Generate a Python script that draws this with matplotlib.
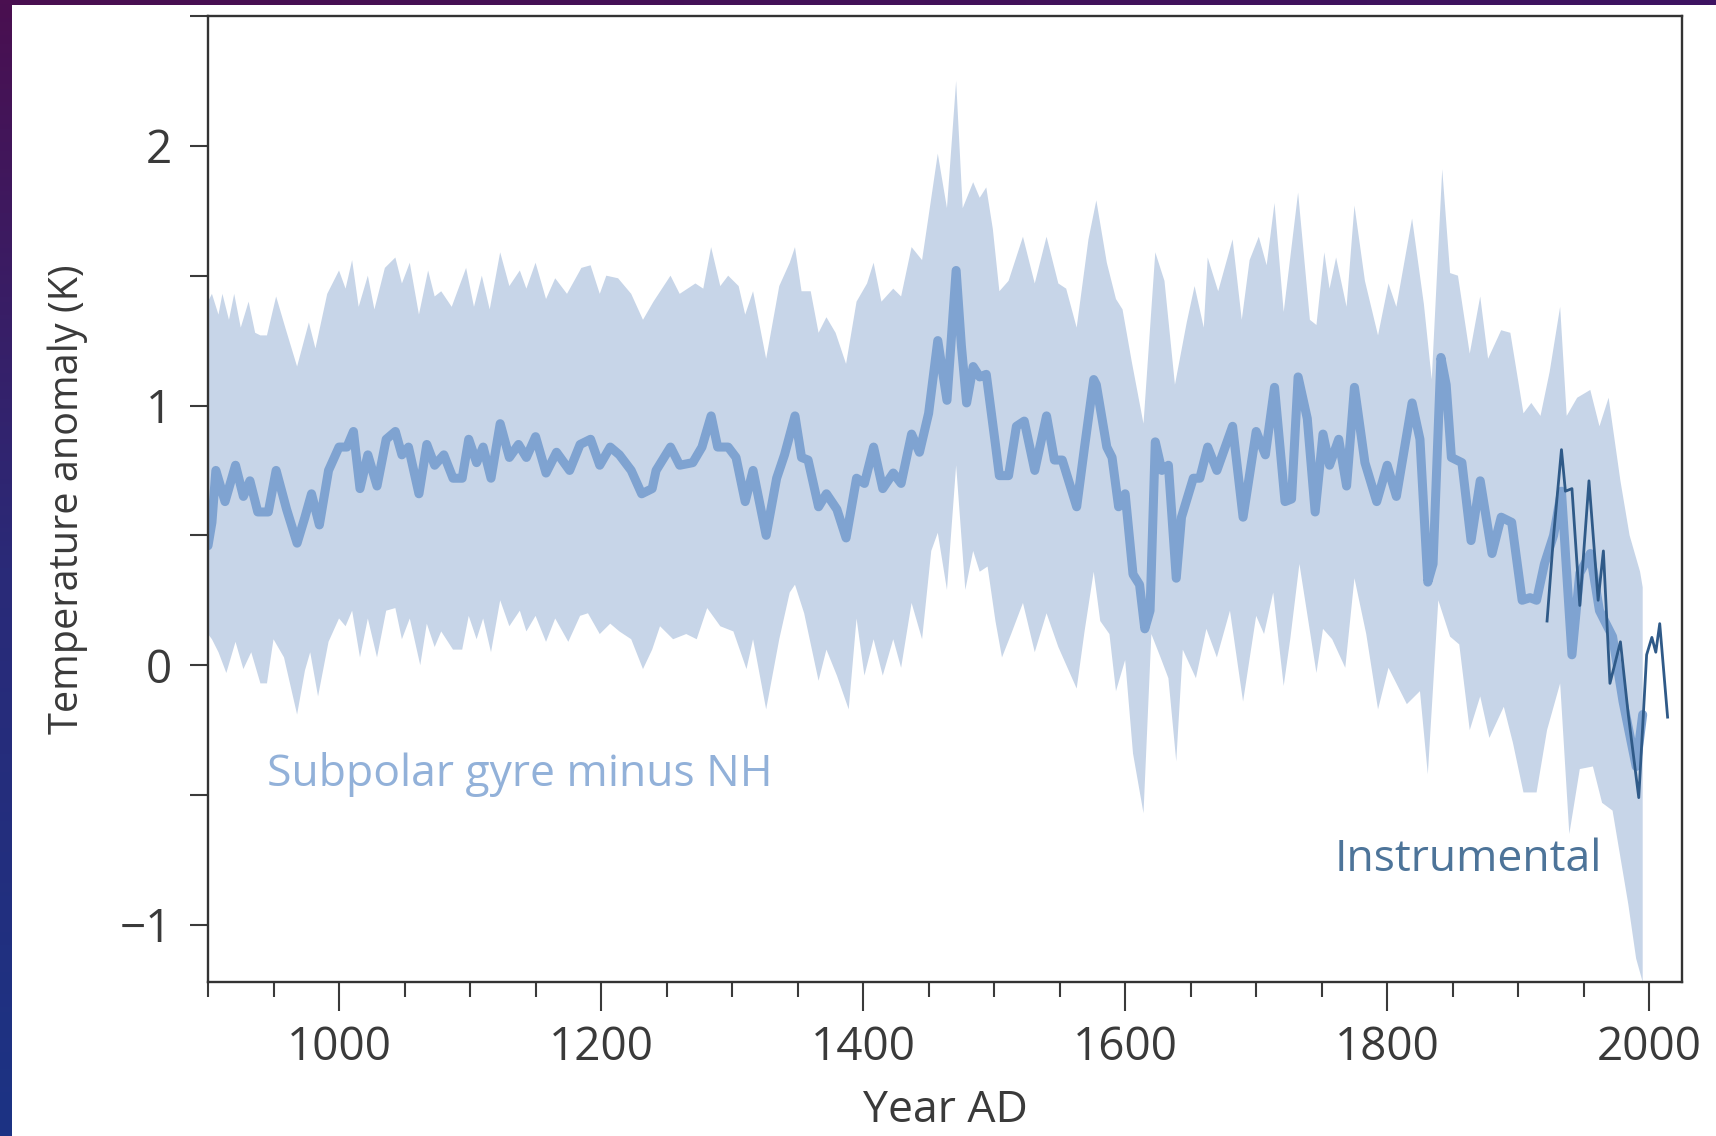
import matplotlib
matplotlib.use("Agg")
import matplotlib.pyplot as plt
import numpy as np
from matplotlib.ticker import MultipleLocator, FixedLocator

# upper edge of the uncertainty band (year, K)
upper_years = [900, 903, 908, 911, 916, 920, 925, 931, 936, 940, 945, 952, 959, 968, 977, 982, 991,
               1000, 1005, 1010, 1015, 1022, 1027, 1035, 1043, 1048, 1054, 1061, 1068, 1073, 1078, 1086,
               1097, 1103, 1109, 1115, 1123, 1130, 1138, 1143, 1150, 1158, 1165, 1174, 1185, 1192, 1199,
               1204, 1213, 1223, 1232, 1240, 1253, 1260, 1272, 1278, 1284, 1291, 1297, 1305, 1310, 1316,
               1326, 1336, 1344, 1348, 1353, 1360, 1366, 1372, 1379, 1387, 1395, 1403, 1408, 1414, 1423,
               1429, 1437, 1445, 1450, 1457, 1464, 1471, 1476, 1484, 1489, 1494, 1499, 1504, 1511, 1522,
               1531, 1540, 1549, 1555, 1563, 1572, 1578, 1586, 1593, 1598, 1605, 1614, 1623, 1630, 1638,
               1647, 1653, 1660, 1663, 1671, 1682, 1689, 1695, 1702, 1708, 1714, 1721, 1732, 1741, 1746,
               1752, 1756, 1761, 1769, 1775, 1783, 1793, 1801, 1807, 1819, 1828, 1834, 1842, 1848, 1854,
               1863, 1871, 1877, 1887, 1894, 1904, 1910, 1917, 1924, 1932, 1937, 1945, 1955, 1962, 1969,
               1978, 1985, 1993, 1995]
upper_vals = [1.40, 1.43, 1.35, 1.43, 1.33, 1.43, 1.30, 1.40, 1.28, 1.27, 1.27, 1.42, 1.30, 1.15, 1.32, 1.22, 1.43,
              1.52, 1.45, 1.56, 1.38, 1.50, 1.37, 1.53, 1.57, 1.47, 1.55, 1.35, 1.52, 1.42, 1.44, 1.38,
              1.53, 1.38, 1.50, 1.37, 1.59, 1.46, 1.52, 1.45, 1.55, 1.41, 1.49, 1.43, 1.53, 1.54, 1.43,
              1.50, 1.49, 1.43, 1.33, 1.40, 1.50, 1.43, 1.47, 1.45, 1.61, 1.46, 1.50, 1.46, 1.35, 1.44,
              1.18, 1.46, 1.55, 1.61, 1.44, 1.44, 1.28, 1.34, 1.28, 1.16, 1.40, 1.47, 1.55, 1.40, 1.45,
              1.42, 1.61, 1.56, 1.73, 1.97, 1.76, 2.25, 1.76, 1.86, 1.80, 1.84, 1.68, 1.44, 1.48, 1.65,
              1.47, 1.65, 1.47, 1.45, 1.30, 1.64, 1.79, 1.55, 1.41, 1.37, 1.17, 0.93, 1.59, 1.48, 1.08,
              1.32, 1.46, 1.30, 1.57, 1.44, 1.64, 1.33, 1.56, 1.65, 1.54, 1.78, 1.36, 1.82, 1.33, 1.31,
              1.59, 1.45, 1.57, 1.38, 1.77, 1.48, 1.27, 1.47, 1.38, 1.72, 1.39, 1.10, 1.91, 1.51, 1.50,
              1.20, 1.42, 1.18, 1.29, 1.28, 0.97, 1.01, 0.96, 1.13, 1.38, 0.96, 1.03, 1.06, 0.92, 1.03,
              0.71, 0.50, 0.36, 0.30]

# lower edge of the uncertainty band (year, K)
lower_years = [900, 903, 908, 914, 921, 927, 933, 940, 945, 950, 958, 968, 974, 978, 984, 992,
               1000, 1005, 1010, 1016, 1022, 1029, 1036, 1043, 1048, 1054, 1062, 1067, 1073, 1078, 1087,
               1094, 1099, 1105, 1110, 1116, 1123, 1130, 1138, 1143, 1150, 1158, 1165, 1175, 1184, 1190,
               1199, 1207, 1214, 1223, 1232, 1239, 1245, 1255, 1265, 1273, 1281, 1291, 1301, 1311, 1316,
               1326, 1336, 1344, 1348, 1355, 1366, 1372, 1380, 1389, 1395, 1401, 1408, 1415, 1423, 1429,
               1437, 1445, 1452, 1457, 1464, 1471, 1478, 1484, 1489, 1495, 1501, 1506, 1513, 1522, 1531,
               1540, 1549, 1563, 1569, 1576, 1581, 1588, 1593, 1600, 1606, 1614, 1620, 1627, 1633, 1639,
               1644, 1654, 1662, 1670, 1680, 1690, 1700, 1706, 1713, 1721, 1726, 1733, 1746, 1751, 1758,
               1768, 1775, 1784, 1793, 1801, 1805, 1815, 1825, 1831, 1839, 1848, 1855, 1863, 1871, 1878,
               1889, 1896, 1904, 1914, 1922, 1932, 1939, 1947, 1957, 1964, 1972, 1978, 1984, 1990, 1995]
lower_vals = [0.12, 0.10, 0.05, -0.03, 0.09, -0.015, 0.05, -0.07, -0.07, 0.10, 0.03, -0.19, -0.02, 0.05, -0.12, 0.09,
              0.18, 0.15, 0.21, 0.03, 0.18, 0.03, 0.21, 0.22, 0.10, 0.18, 0.00, 0.16, 0.07, 0.13, 0.06,
              0.06, 0.19, 0.10, 0.18, 0.05, 0.25, 0.15, 0.21, 0.13, 0.19, 0.09, 0.18, 0.09, 0.19, 0.20,
              0.12, 0.16, 0.13, 0.10, -0.015, 0.06, 0.15, 0.10, 0.12, 0.10, 0.22, 0.15, 0.13, -0.015, 0.10,
              -0.17, 0.10, 0.28, 0.31, 0.20, -0.06, 0.06, -0.04, -0.17, 0.18, -0.04, 0.10, -0.04, 0.10, -0.01,
              0.24, 0.10, 0.44, 0.51, 0.29, 0.77, 0.29, 0.44, 0.36, 0.38, 0.17, 0.03, 0.12, 0.24, 0.05,
              0.20, 0.07, -0.09, 0.13, 0.36, 0.17, 0.12, -0.10, 0.02, -0.34, -0.57, 0.12, 0.03, -0.05, -0.37,
              0.06, -0.05, 0.14, 0.03, 0.21, -0.14, 0.19, 0.12, 0.28, -0.08, 0.10, 0.39, -0.03, 0.14, 0.10,
              -0.01, 0.335, 0.12, -0.17, -0.01, -0.05, -0.15, -0.10, -0.42, 0.25, 0.11, 0.08, -0.25, -0.12, -0.28,
              -0.16, -0.30, -0.49, -0.49, -0.25, -0.07, -0.65, -0.40, -0.39, -0.53, -0.56, -0.74, -0.92, -1.13, -1.22]

# reconstruction: subpolar gyre minus NH
recon_years = [900, 903, 906, 913, 921, 927, 932, 938, 946, 952, 960, 968, 974, 979, 985, 992,
               1000, 1006, 1011, 1016, 1022, 1029, 1036, 1043, 1048, 1053, 1061, 1067, 1073, 1080, 1087,
               1094, 1099, 1105, 1110, 1116, 1123, 1130, 1137, 1143, 1150, 1158, 1166, 1176, 1184, 1192,
               1199, 1207, 1214, 1223, 1231, 1239, 1242, 1253, 1260, 1270, 1277, 1284, 1289, 1297, 1303,
               1310, 1316, 1326, 1334, 1340, 1348, 1353, 1358, 1366, 1372, 1380, 1387, 1395, 1401, 1408,
               1415, 1423, 1429, 1437, 1443, 1450, 1457, 1464, 1471, 1475, 1479, 1484, 1489, 1494, 1501,
               1504, 1511, 1517, 1523, 1531, 1540, 1546, 1552, 1563, 1569, 1576, 1578, 1586, 1590, 1595,
               1600, 1606, 1611, 1615, 1619, 1623, 1628, 1633, 1639, 1643, 1652, 1657, 1663, 1670, 1682,
               1690, 1700, 1707, 1714, 1722, 1727, 1732, 1739, 1745, 1751, 1756, 1763, 1769, 1775, 1783,
               1792, 1800, 1807, 1819, 1825, 1831, 1835, 1841, 1845, 1849, 1857, 1864, 1871, 1880, 1887,
               1895, 1903, 1909, 1914, 1920, 1927, 1933, 1941, 1947, 1955, 1962, 1972, 1980, 1990, 1995]
recon_vals = [0.46, 0.55, 0.75, 0.63, 0.77, 0.65, 0.71, 0.59, 0.59, 0.75, 0.60, 0.47, 0.57, 0.66, 0.54, 0.75,
              0.84, 0.84, 0.90, 0.68, 0.81, 0.69, 0.87, 0.90, 0.81, 0.84, 0.66, 0.85, 0.77, 0.81, 0.72,
              0.72, 0.87, 0.78, 0.84, 0.72, 0.93, 0.80, 0.85, 0.80, 0.88, 0.74, 0.82, 0.75, 0.85, 0.87,
              0.77, 0.84, 0.81, 0.75, 0.66, 0.68, 0.75, 0.84, 0.77, 0.78, 0.84, 0.96, 0.84, 0.84, 0.80,
              0.63, 0.75, 0.50, 0.72, 0.81, 0.96, 0.80, 0.79, 0.61, 0.66, 0.60, 0.49, 0.72, 0.70, 0.84,
              0.68, 0.74, 0.70, 0.89, 0.82, 0.97, 1.25, 1.02, 1.52, 1.23, 1.01, 1.15, 1.11, 1.12, 0.85,
              0.73, 0.73, 0.92, 0.94, 0.75, 0.96, 0.79, 0.79, 0.61, 0.84, 1.10, 1.08, 0.84, 0.80, 0.61,
              0.66, 0.35, 0.31, 0.14, 0.21, 0.86, 0.75, 0.77, 0.335, 0.57, 0.72, 0.72, 0.84, 0.75, 0.92,
              0.57, 0.90, 0.81, 1.07, 0.63, 0.64, 1.11, 0.95, 0.59, 0.89, 0.77, 0.87, 0.69, 1.07, 0.78,
              0.63, 0.77, 0.65, 1.01, 0.87, 0.32, 0.39, 1.185, 1.08, 0.80, 0.78, 0.48, 0.71, 0.43, 0.57,
              0.55, 0.25, 0.26, 0.25, 0.39, 0.50, 0.67, 0.04, 0.355, 0.43, 0.21, 0.11, -0.14, -0.39, -0.19]

# instrumental record
instr_years = [1922, 1927, 1933, 1936, 1941, 1947, 1954, 1961, 1965, 1970, 1978, 1984, 1992, 1998, 2002, 2005, 2008, 2014]
instr_vals = [0.17, 0.50, 0.83, 0.67, 0.68, 0.23, 0.71, 0.25, 0.44, -0.07, 0.09, -0.19, -0.51, 0.04, 0.107, 0.05, 0.16, -0.20]

band_color = "#c7d5e8"
recon_color = "#7fa3d1"
instr_color = "#2f5a88"
text_color = "#3a3a3a"

plt.rcParams["font.family"] = ["Open Sans", "DejaVu Sans"]

fig = plt.figure(figsize=(17.16, 11.36), dpi=100)
ax = fig.add_axes([208 / 1716, 1 - 982 / 1136, 1474 / 1716, 966 / 1136])

# band polygon: upper edge forward, lower edge back
poly_x = upper_years + lower_years[::-1]
poly_y = upper_vals + lower_vals[::-1]
ax.fill(poly_x, poly_y, color=band_color, lw=0, zorder=1)

ax.plot(recon_years, recon_vals, color=recon_color, lw=6.5, solid_joinstyle="round",
        solid_capstyle="round", zorder=2)
ax.plot(instr_years, instr_vals, color=instr_color, lw=2.0, zorder=3)

ax.set_xlim(900, 2025)
ax.set_ylim(-1.22, 2.5)

ax.xaxis.set_major_locator(MultipleLocator(200))
ax.xaxis.set_minor_locator(FixedLocator(list(range(900, 2001, 50))))
ax.yaxis.set_major_locator(MultipleLocator(1))
ax.yaxis.set_minor_locator(MultipleLocator(0.5))
ax.yaxis.set_major_formatter(plt.FuncFormatter(lambda v, p: f"{v:.0f}".replace("-", "\u2212")))

ax.tick_params(axis="x", which="major", direction="out", length=21, width=1.5,
               pad=10, labelsize=33, colors=text_color)
ax.tick_params(axis="x", which="minor", direction="out", length=11, width=1.5, colors=text_color)
ax.tick_params(axis="y", which="both", direction="out", length=13, width=1.5,
               pad=13, labelsize=33, colors=text_color)

for s in ax.spines.values():
    s.set_linewidth(1.7)
    s.set_color("#333333")

ax.set_xlabel("Year AD", fontsize=32, color=text_color)
ax.set_ylabel("Temperature anomaly (K)", fontsize=28.5, color=text_color)
ax.xaxis.set_label_coords(0.5, -0.133)
ax.xaxis.label.set_va("center")
ax.yaxis.set_label_coords(-0.095, 0.5)
ax.yaxis.label.set_va("center")

ax.text(945, -0.42, "Subpolar gyre minus NH", fontsize=32, color="#92b1d9",
        ha="left", va="center", zorder=4)
ax.text(1760, -0.75, "Instrumental", fontsize=32, color="#4d7499",
        ha="left", va="center", zorder=4)

# slide frame: purple/blue strips on the top and left edges
top = fig.add_axes([0, 1 - 5 / 1136, 1, 5 / 1136])
top.imshow(np.linspace(0, 1, 256)[None, :], aspect="auto",
           cmap=matplotlib.colors.LinearSegmentedColormap.from_list("t", ["#4a0f50", "#3d1462"]))
top.axis("off")
left = fig.add_axes([0, 0, 12 / 1716, 1])
left.imshow(np.linspace(0, 1, 256)[:, None], aspect="auto",
            cmap=matplotlib.colors.LinearSegmentedColormap.from_list("l", ["#4a0f50", "#2a2a78", "#1c3384"]))
left.axis("off")

fig.savefig("out.png", dpi=100)
